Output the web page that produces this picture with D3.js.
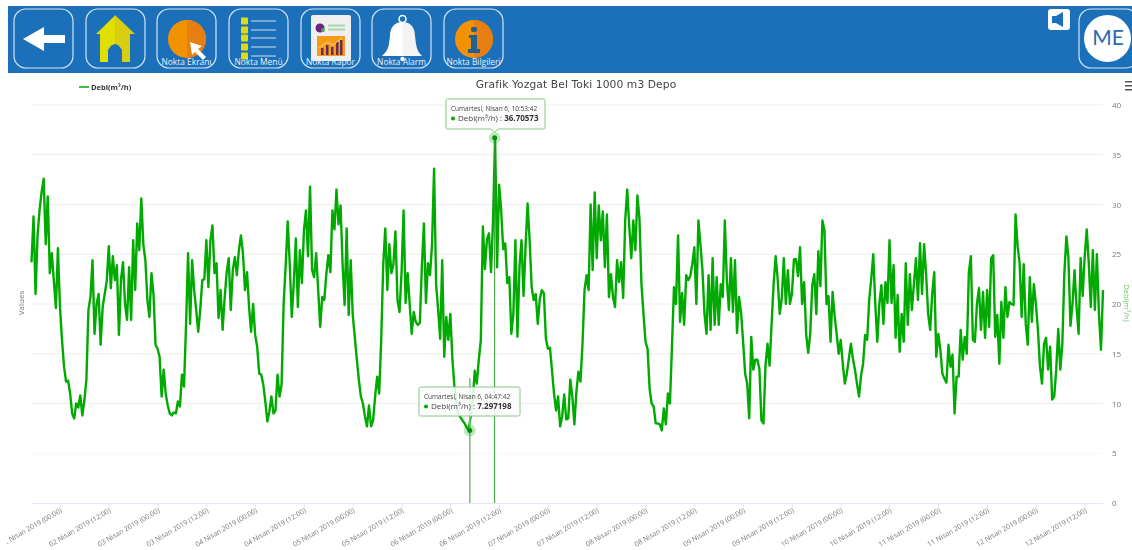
<!DOCTYPE html>
<html>
<head>
<meta charset="utf-8">
<script src="https://d3js.org/d3.v7.min.js"></script>
<style>
  html, body { margin: 0; padding: 0; background: #fff; overflow: hidden; }
  svg { display: block; filter: blur(0.4px); }
  text { font-family: "Open Sans", sans-serif; }
</style>
</head>
<body>
<svg id="page" width="1132" height="550"></svg>
<script>
/** VALUES, ONE READING EVERY 30 MINUTES **/
var flowApr01 = [24.2,28.8,21.0,27.0,29.5,31.3,32.6,26.0,30.8,23.1,25.1,22.3,19.6,25.6];
var flowApr02 = [19.7,16.4,13.7,12.2,12.3,11.0,9.0,8.5,10.0,9.6,10.8,8.8,10.3,12.4,19.4,20.7,
  24.4,17.0,20.0,21.0,15.9,19.7,21.0,22.3,25.8,21.6,24.8,22.4,23.9,16.9,22.4,24.2,
  20.0,18.4,23.7,18.4,26.4,21.4,28.1,25.4,30.6,26.0,24.4,20.4,18.7,23.1,21.0,15.9];
var flowApr03 = [15.5,14.7,10.7,13.4,11.0,9.8,9.0,8.8,9.1,9.0,10.2,9.7,12.9,11.7,17.8,25.1,
  18.0,24.4,21.4,19.4,17.2,19.4,22.4,22.5,26.4,21.7,26.4,27.9,23.1,24.1,18.6,21.4,
  17.4,20.6,23.2,24.6,19.4,23.4,24.7,22.9,25.4,26.9,25.1,21.4,23.2,19.7,17.2,20.0];
var flowApr04 = [16.9,15.7,13.0,12.9,11.9,10.2,8.2,9.2,10.7,9.0,9.3,12.9,10.7,11.9,20.0,23.8,
  28.3,24.1,18.7,22.1,26.6,19.7,25.4,22.1,27.4,29.4,24.8,31.8,23.4,22.7,25.1,21.4,
  17.7,20.7,20.4,23.0,24.9,23.2,29.4,27.5,31.5,28.0,29.9,24.0,19.9,27.6,18.9,24.4];
var flowApr05 = [18.9,16.7,14.4,12.4,10.7,10.0,8.7,7.7,9.8,7.7,8.3,10.7,12.7,11.0,16.4,24.0,
  27.6,21.4,26.0,23.1,24.0,27.3,20.4,19.2,23.1,29.4,20.1,23.1,20.0,17.0,19.2,18.2,
  17.9,18.1,23.8,28.1,20.1,24.1,22.9,26.0,33.6,22.0,19.4,16.5,24.4,14.7,18.7,16.4];
var flowApr06 = [19.0,14.5,11.7,9.7,8.9,8.6,8.3,8.0,7.6,7.3,8.7,10.3,13.3,12.0,14.4,16.4,
  27.8,23.5,26.5,27.1,23.2,28.4,36.7,23.7,32.0,29.4,25.5,26.1,22.1,22.7,17.0,19.0,
  26.4,16.7,23.7,26.4,20.8,25.8,30.1,26.4,21.7,20.4,21.0,18.0,20.5,21.4,21.1,16.5];
var flowApr07 = [15.5,15.6,13.3,11.0,9.3,10.7,7.7,8.7,10.9,8.4,8.5,12.4,10.7,7.9,11.2,13.2,
  12.2,16.0,21.4,22.9,21.4,30.0,23.4,31.2,24.6,29.9,26.4,29.3,23.7,29.0,20.7,23.0,
  20.7,19.7,24.4,22.2,24.2,20.6,28.4,31.5,27.8,24.6,28.4,25.4,30.9,28.6,22.0,19.0];
var flowApr08 = [16.2,15.5,11.5,10.0,9.7,8.0,8.0,7.9,7.3,9.5,7.9,11.0,10.0,15.7,21.7,20.0,
  26.9,18.2,21.1,17.9,22.9,22.4,22.8,24.0,25.7,20.0,28.4,26.0,23.4,19.0,17.0,22.9,
  17.4,24.6,17.9,22.7,17.9,22.0,20.7,28.4,22.4,19.4,24.6,19.2,24.4,17.1,20.7,19.1];
var flowApr09 = [16.2,13.0,12.0,8.5,16.7,13.4,14.4,14.4,13.5,8.3,8.0,13.8,16.0,13.8,18.0,22.0,
  24.8,22.5,19.0,20.5,24.6,20.0,23.4,20.0,21.0,24.5,24.5,22.8,25.7,20.0,22.2,17.0,
  15.1,17.0,21.9,23.0,19.0,25.3,21.8,28.4,27.4,20.0,20.8,16.2,21.2,18.8,17.0,15.0];
var flowApr10 = [16.4,14.0,12.0,13.0,14.5,16.0,14.5,13.4,12.0,10.7,12.8,14.0,16.9,16.4,20.4,22.5,
  25.0,20.0,16.2,20.0,21.9,18.0,22.2,20.1,26.4,20.1,23.9,16.6,20.9,15.2,19.0,16.2,
  24.1,17.9,23.0,19.4,22.0,24.6,20.4,26.1,21.0,26.0,23.0,19.0,17.4,21.0,23.2,14.7];
var flowApr11 = [17.0,15.4,13.0,12.5,12.1,15.9,13.7,14.9,9.0,12.7,12.7,17.4,14.4,16.7,15.0,23.1,
  24.8,16.4,16.2,20.0,21.6,17.4,21.2,16.6,21.4,17.7,24.6,24.9,16.7,18.9,14.0,20.2,
  16.6,21.7,18.7,20.2,20.0,19.9,29.0,25.8,24.1,18.7,24.0,18.0,15.9,22.7,18.2,22.0];
var flowApr12 = [20.0,17.4,13.7,12.0,16.0,16.6,13.4,15.7,10.4,10.7,13.4,17.5,13.4,16.0,23.1,26.8,
  24.6,17.8,20.0,23.4,19.7,17.0,24.6,20.8,24.8,27.5,24.1,19.7,25.4,19.4,25.0,19.0,15.4,21.4];

var yTicks = [0, 5, 10, 15, 20, 25, 30, 35, 40];
var monthName = "Nisan";
var seriesName = "Debi(m\u00b3/h)";
var chartTitle = "Grafik Yozgat Bel Toki 1000 m3 Depo";
var hoverDates = [new Date(Date.UTC(2019, 3, 6, 10, 53, 42)), new Date(Date.UTC(2019, 3, 6, 4, 47, 42))];
var hoverValues = [36.70573, 7.297198];
var hoverTitles = ["Cumartesi, Nisan 6, 10:53:42", "Cumartesi, Nisan 6, 04:47:42"];
var menuLabels = ["Nokta Ekran\u0131", "Nokta Men\u00fc", "Nokta Rapor", "Nokta Alarm", "Nokta Bilgileri"];

var lineColor = "#00aa00";
var barColor = "#1c70b9";
var firstReading = new Date(Date.UTC(2019, 3, 1, 17, 0));
var lastReading = new Date(Date.UTC(2019, 3, 12, 16, 30));

var flowValues = [].concat(flowApr01, flowApr02, flowApr03, flowApr04, flowApr05, flowApr06,
  flowApr07, flowApr08, flowApr09, flowApr10, flowApr11, flowApr12);
var readings = flowValues.map(function(v, i) {
  return {date: d3.utcMinute.offset(firstReading, i * 30), value: v};
});

var svg = d3.select("#page");
var x = d3.scaleUtc().domain([firstReading, lastReading]).range([31.5, 1103]);
var y = d3.scaleLinear().domain([0, 40]).range([503, 105]);

/* top menu bar with its icon buttons */
function drawMenuBar() {
  svg.append("rect").attr("x", 8).attr("y", 6).attr("width", 1124).attr("height", 67).attr("fill", barColor);

  var lefts = [14, 86, 157, 229, 301, 372, 444, 1079];
  svg.selectAll(".button")
    .data(lefts)
    .enter()
    .append("rect")
      .attr("class", "button")
      .attr("x", function(d) {return d;})
      .attr("y", 9)
      .attr("width", 59)
      .attr("height", 59)
      .attr("rx", 12)
      .attr("fill", "none")
      .attr("stroke", "#d5e4f2")
      .attr("stroke-width", 1.2);

  // back arrow
  svg.append("path").attr("d", "M23 39 L44 27 L44 35 L65 35 L65 43 L44 43 L44 51 Z").attr("fill", "#fff");

  // home
  svg.append("path").attr("d", "M115.5 15 L96 34 L100 34 L100 62 L115.5 62 Z").attr("fill", "#dfdf00");
  svg.append("path").attr("d", "M115 15 L135 34 L130 34 L130 62 L115 62 Z").attr("fill", "#d9cd12");
  svg.append("path").attr("d", "M108 62 L108 50 Q115 38 122 50 L122 62 Z").attr("fill", barColor);

  // pie with cursor
  svg.append("circle").attr("cx", 187).attr("cy", 39).attr("r", 19).attr("fill", "#f39200");
  svg.append("path").attr("d", "M187 20 A19 19 0 0 1 187 58 Z").attr("fill", "#e67e12");
  svg.append("path").attr("d", "M190 42 L202 46 L198 49 L206 57 L203 60 L195 52 L192 55 Z").attr("fill", "#fff");

  // list
  [21, 30, 38, 47, 56].forEach(function(rowY) {
    svg.append("rect").attr("x", 241).attr("y", rowY - 3.5).attr("width", 7).attr("height", 7).attr("rx", 1).attr("fill", "#dcdc14");
    svg.append("line").attr("x1", 251).attr("x2", 276).attr("y1", rowY).attr("y2", rowY).attr("stroke", "#cfe0ee").attr("stroke-width", 1);
  });

  // report sheet
  svg.append("rect").attr("x", 311).attr("y", 15).attr("width", 40).attr("height", 46).attr("rx", 2).attr("fill", "#efefef");
  svg.append("circle").attr("cx", 320).attr("cy", 28).attr("r", 4.5).attr("fill", "#6c2480");
  svg.append("circle").attr("cx", 323).attr("cy", 30).attr("r", 2).attr("fill", "#4caf50");
  svg.append("rect").attr("x", 328).attr("y", 24.5).attr("width", 17).attr("height", 2).attr("fill", "#a7d8ae");
  svg.append("rect").attr("x", 328).attr("y", 28.5).attr("width", 17).attr("height", 2).attr("fill", "#a7d8ae");
  svg.append("rect").attr("x", 317).attr("y", 36).attr("width", 28).attr("height", 20).attr("fill", "#f59c1a");
  [[321, 7], [326, 10], [331, 8], [336, 13], [340, 15]].forEach(function(b) {
    svg.append("rect").attr("x", b[0]).attr("y", 55 - b[1]).attr("width", 2.5).attr("height", b[1]).attr("fill", "#6b2a55");
  });
  svg.append("path").attr("d", "M319 48 L327 42 L333 45 L342 38").attr("fill", "none").attr("stroke", "#f5d76e").attr("stroke-width", 1);

  // bell
  svg.append("circle").attr("cx", 402.5).attr("cy", 19).attr("r", 3.5).attr("fill", "none").attr("stroke", "#fff").attr("stroke-width", 1.5);
  svg.append("path").attr("d", "M403 22 C394 22 390 28 390 36 L389 44 C388 50 385 53 382 56 L403 56 Z").attr("fill", "#fff");
  svg.append("path").attr("d", "M402.5 22 C411 22 415 28 415 36 L416 44 C417 50 419 53 422 56 L402.5 56 Z").attr("fill", "#f3f3f3");
  svg.append("circle").attr("cx", 402.5).attr("cy", 59).attr("r", 2.2).attr("fill", "#fff");

  // info
  svg.append("circle").attr("cx", 474).attr("cy", 39).attr("r", 19).attr("fill", "#f39200");
  svg.append("path").attr("d", "M474 20 A19 19 0 0 1 474 58 Z").attr("fill", "#e67e12");
  svg.append("rect").attr("x", 471).attr("y", 27).attr("width", 6).attr("height", 5).attr("rx", 2).attr("fill", "#235f94");
  svg.append("path").attr("d", "M469 35 L477 35 L477 49 L480 49 L480 53 L468 53 L468 49 L471 49 L471 38 L469 38 Z").attr("fill", "#235f94");

  // menu captions
  svg.selectAll(".caption")
    .data(menuLabels)
    .enter()
    .append("text")
      .attr("class", "caption")
      .text(function(d) {return d;})
      .attr("x", function(d, i) {return lefts[i + 2] + 29.5;})
      .attr("y", 65)
      .attr("text-anchor", "middle")
      .attr("font-size", "8.4px")
      .attr("fill", "#e8f0f8");

  // speaker
  svg.append("rect").attr("x", 1048).attr("y", 9).attr("width", 22).attr("height", 21).attr("rx", 3).attr("fill", "#fff");
  svg.append("path").attr("d", "M1052 16 L1056 16 L1063 12 L1063 27 L1056 23 L1052 23 Z").attr("fill", barColor);

  // user badge
  svg.append("circle").attr("cx", 1107.5).attr("cy", 38.5).attr("r", 23.5).attr("fill", "#fff");
  svg.append("text")
    .text("ME")
    .attr("x", 1108)
    .attr("y", 45)
    .attr("text-anchor", "middle")
    .style("font-family", "Lato")
    .attr("font-size", "21px")
    .attr("fill", "#2a6bad");
}

/* grid, both axes and their titles */
function drawAxes() {
  svg.append("g").selectAll("line")
    .data(yTicks.filter(function(d) {return d > 0;}))
    .enter()
    .append("line")
      .attr("x1", 31)
      .attr("x2", 1103)
      .attr("y1", function(d) {return y(d);})
      .attr("y2", function(d) {return y(d);})
      .attr("stroke", function(d) {return d === 5 ? "#f7f7f7" : "#ededed";})
      .attr("stroke-width", 1);

  var rightAxis = svg.append("g")
    .attr("transform", "translate(1103, 0)")
    .call(d3.axisRight(y).tickValues(yTicks).tickSize(0).tickPadding(9));
  rightAxis.select(".domain").remove();
  rightAxis.selectAll("text").style("font-size", "8px").style("fill", "#777");

  // the first date label runs off the chart on the left, as in the screenshot
  var clip = svg.append("clipPath").attr("id", "labelClip");
  clip.append("rect").attr("x", 7).attr("y", -10).attr("width", 1125).attr("height", 57);

  var tickDates = d3.utcHour.range(new Date(Date.UTC(2019, 3, 2)), lastReading, 12);
  var bottomAxis = svg.append("g")
    .attr("transform", "translate(0, 503)")
    .attr("clip-path", "url(#labelClip)")
    .call(d3.axisBottom(x)
      .tickValues(tickDates)
      .tickSize(5)
      .tickSizeOuter(0)
      .tickFormat(function(d) {
        return d3.utcFormat("%d")(d) + " " + monthName + " 2019 (" + d3.utcFormat("%H:%M")(d) + ")";
      }));
  bottomAxis.select(".domain").attr("stroke", "#e3e8f2");
  bottomAxis.selectAll(".tick line").attr("stroke", "#e3e8f2");
  bottomAxis.selectAll("text")
    .attr("transform", "translate(1, 7) rotate(-30)")
    .attr("y", 0)
    .attr("dy", "0.32em")
    .style("text-anchor", "end")
    .style("font-size", "7px")
    .style("fill", "#777");

  svg.append("text")
    .text("Values")
    .attr("transform", "translate(24, 303) rotate(-90)")
    .attr("text-anchor", "middle")
    .attr("font-size", "8px")
    .attr("fill", "#777");
  svg.append("text")
    .text(seriesName)
    .attr("transform", "translate(1123.5, 303) rotate(90)")
    .attr("text-anchor", "middle")
    .attr("font-size", "7.5px")
    .attr("fill", "#6fbf6f");
}

function drawTitleAndLegend() {
  svg.append("text")
    .text(chartTitle)
    .attr("x", 576)
    .attr("y", 87.5)
    .attr("text-anchor", "middle")
    .style("font-family", "DejaVu Sans")
    .attr("font-size", "10.7px")
    .attr("letter-spacing", "0.1px")
    .attr("fill", "#444");

  svg.append("line").attr("x1", 79).attr("x2", 89).attr("y1", 87).attr("y2", 87).attr("stroke", lineColor).attr("stroke-width", 1.5);
  svg.append("text")
    .text(seriesName)
    .attr("x", 91)
    .attr("y", 90)
    .attr("font-size", "7.5px")
    .attr("font-weight", "bold")
    .attr("fill", "#333");

  // hamburger menu
  [81, 85, 89].forEach(function(rowY) {
    svg.append("rect").attr("x", 1125).attr("y", rowY).attr("width", 7).attr("height", 1.5).attr("fill", "#555");
  });
}

function drawLine() {
  var line = d3.line()
    .x(function(d) {return x(d.date);})
    .y(function(d) {return y(d.value);});

  svg.append("path")
    .datum(readings)
    .attr("fill", "none")
    .attr("stroke", lineColor)
    .attr("stroke-width", 2.4)
    .attr("stroke-linejoin", "round")
    .attr("d", line);
}

/* crosshairs and hover markers for the two hovered readings */
function drawHovers() {
  svg.append("line")
    .attr("x1", x(hoverDates[0])).attr("x2", x(hoverDates[0]))
    .attr("y1", y(hoverValues[0])).attr("y2", 503)
    .attr("stroke", "#2a9d2a").attr("stroke-width", 1);
  svg.append("line")
    .attr("x1", x(hoverDates[1])).attr("x2", x(hoverDates[1]))
    .attr("y1", 378).attr("y2", 503)
    .attr("stroke", "#7cc27c").attr("stroke-width", 1.6);

  hoverDates.forEach(function(d, i) {
    svg.append("circle").attr("cx", x(d)).attr("cy", y(hoverValues[i])).attr("r", 6).attr("fill", lineColor).attr("opacity", 0.25);
    svg.append("circle").attr("cx", x(d)).attr("cy", y(hoverValues[i])).attr("r", 2.5).attr("fill", "#0a8a0a");
  });

  drawTooltip(0, 446, 99, 99, 30);
  drawTooltip(1, 419, 387, 101, 29);
}

function drawTooltip(i, left, top, width, height) {
  var box = svg.append("g").attr("transform", "translate(" + left + ", " + top + ")");
  var tipX = x(hoverDates[i]) - left;
  var tipY = i === 0 ? height + 3 : height;
  box.append("path")
    .attr("d", "M1.5 0 H" + (width - 1.5) + " Q" + width + " 0 " + width + " 1.5 V" + (height - 1.5)
      + " Q" + width + " " + height + " " + (width - 1.5) + " " + height
      + " H" + (tipX + 4) + " L" + tipX + " " + tipY + " L" + (tipX - 4) + " " + height
      + " H1.5 Q0 " + height + " 0 " + (height - 1.5) + " V1.5 Q0 0 1.5 0 Z")
    .attr("fill", "rgba(252,252,252,0.88)")
    .attr("stroke", "#84c884")
    .attr("stroke-width", 1);
  box.append("text")
    .text(hoverTitles[i])
    .attr("x", 5)
    .attr("y", 12)
    .attr("font-size", "6.5px")
    .attr("fill", "#444");
  box.append("circle").attr("cx", 7).attr("cy", 19.5).attr("r", 2).attr("fill", lineColor);
  var row = box.append("text")
    .attr("x", 12)
    .attr("y", 22)
    .attr("font-size", "8px")
    .attr("fill", "#444");
  row.append("tspan").text(seriesName + " : ");
  row.append("tspan").text(String(hoverValues[i])).attr("font-weight", "bold").attr("fill", "#333");
}

drawMenuBar();
drawAxes();
drawTitleAndLegend();
drawLine();
drawHovers();
</script>
</body>
</html>
